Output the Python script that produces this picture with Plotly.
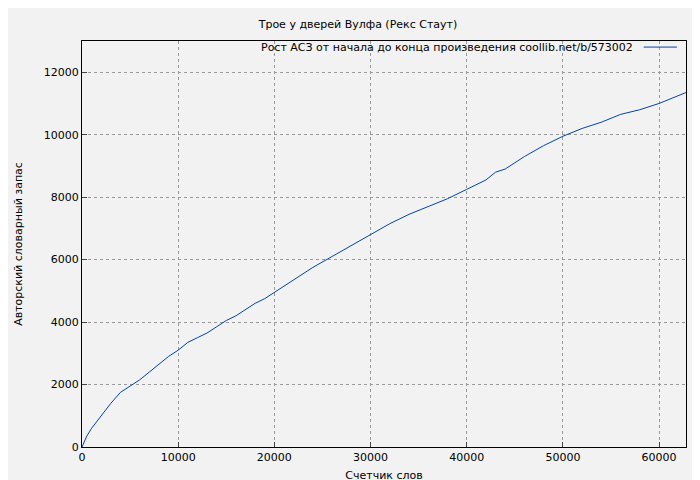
import plotly.graph_objects as go

words = [0, 500, 1000, 2000, 3000, 4000, 5000, 6000, 7000, 8000, 9000, 10000, 11000, 12000,
         13000, 14000, 15000, 16000, 17000, 18000, 19000, 20000, 22000, 24000, 26000, 28000,
         30000, 32000, 34000, 36000, 38000, 40000, 42000, 43000, 44000, 46000, 48000, 50000,
         52000, 54000, 56000, 58000, 60000, 62800]
vocab = [0, 350, 600, 1000, 1400, 1750, 1950, 2150, 2400, 2650, 2900, 3100, 3350, 3500,
         3650, 3850, 4050, 4200, 4400, 4600, 4750, 4950, 5350, 5750, 6100, 6450,
         6800, 7150, 7450, 7700, 7950, 8250, 8550, 8800, 8900, 9300, 9650, 9950,
         10200, 10400, 10650, 10800, 11000, 11350]
label = 'Рост АСЗ от начала до конца произведения coollib.net/b/573002'

fig = go.Figure()
fig.add_trace(go.Scatter(x=words, y=vocab, mode='lines', line=dict(color='#0044aa', width=1),
                         name=label, showlegend=False))

ax = dict(showgrid=True, gridcolor='#999999', griddash='dot', gridwidth=1, zeroline=False,
          showline=True, linecolor='black', mirror=True, ticks='inside', ticklen=5,
          tickformat='d', automargin=False, tickfont=dict(size=11, color='black'))
fig.update_layout(
    width=700, height=480, paper_bgcolor='#f2f2f2', plot_bgcolor='#f2f2f2',
    font=dict(family='DejaVu Sans', size=11, color='black'),
    title=dict(text='Трое у дверей Вулфа (Рекс Стаут)', x=0.5, xanchor='center', y=0.975, font=dict(size=11)),
    margin=dict(l=74, r=22, t=33, b=41),
    xaxis=dict(ax, range=[0, 62800], dtick=10000,
               title=dict(text='Счетчик слов', standoff=8, font=dict(size=11))),
    yaxis=dict(ax, range=[0, 13000], dtick=2000,
               title=dict(text='Авторский словарный запас', standoff=18, font=dict(size=11))),
)
fig.add_annotation(xref='paper', yref='paper', x=0.915, y=0.985, xanchor='right', yanchor='middle',
                   text=label, showarrow=False, font=dict(size=11))
fig.add_shape(type='line', xref='paper', yref='paper', x0=0.93, x1=0.985, y0=0.985, y1=0.985,
              line=dict(color='#0044aa', width=1))
fig.write_html("out.html")
